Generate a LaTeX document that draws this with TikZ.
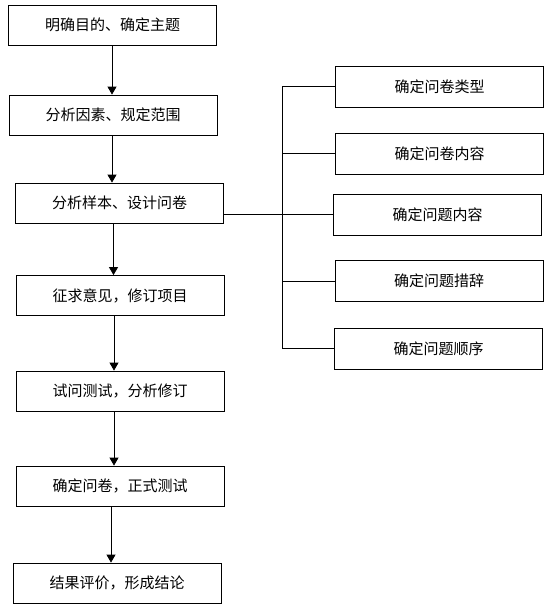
\documentclass[tikz,border=0pt]{standalone}
\usepackage{fontspec}
\newfontfamily\cjk{Noto Sans CJK SC}
\usetikzlibrary{arrows.meta,positioning}
\tikzset{
  stage/.style={
    shape = rectangle,
    draw,
    line width = 0.8pt,
    minimum width = 208pt,
    minimum height = 40pt,
    inner sep = 0pt,
    font = \cjk\fontsize{15}{18}\selectfont
  },
  item/.style={
    stage,
    minimum height = 41pt
  },
  flow/.style={
    -{Triangle[width=9pt,length=8pt]},
    line width = 0.8pt
  },
  link/.style={
    line width = 0.7pt
  }
}

\begin{document}
\begin{tikzpicture}[x=1pt,y=-1pt]
        \useasboundingbox (0,0) rectangle (557,616);
        \def\dx{-6pt};

        \node[stage] (goal)    at (112.5,25)  {明确目的、确定主题};
        \node[stage] (factor)  at (113,115)   {分析因素、规定范围};
        \node[stage] (sample)  at (119.5,203) {分析样本、设计问卷};
        \node[stage] (opinion) at (120,295.5) {征求意见，修订项目};
        \node[stage] (trial)   at (120,391)   {试问测试，分析修订};
        \node[stage] (final)   at (120,486)   {确定问卷，正式测试};
        \node[stage] (result)  at (117,583)   {结果评价，形成结论};

        \node[item] (type)    at (439.5,86.5)  {确定问卷类型};
        \node[item] (content) at (439.5,153.5) {确定问卷内容};
        \node[item] (qcont)   at (437.5,214.5) {确定问题内容};
        \node[item] (wording) at (439,281)     {确定问题措辞};
        \node[item] (order)   at (438.5,348.5) {确定问题顺序};

        \draw[flow] ([xshift=-0.5pt]goal.south) -- ([xshift=-0.5pt]goal.south |- factor.north);
        \draw[flow] ([xshift=-1pt]factor.south) -- ([xshift=-1pt]factor.south |- sample.north);
        \draw[flow] ([xshift=\dx]sample.south) -- ([xshift=\dx]sample.south |- opinion.north);
        \draw[flow] ([xshift=\dx]opinion.south) -- ([xshift=\dx]opinion.south |- trial.north);
        \draw[flow] ([xshift=\dx]trial.south) -- ([xshift=\dx]trial.south |- final.north);
        \draw[flow] ([xshift=-9pt]final.south) -- ([xshift=-9pt]final.south |- result.north);

        \coordinate (bus) at (282,0);
        \draw[link] (type.west) -| (bus |- order.west) -- (order.west);
        \draw[link] (sample.east |- qcont.west) -- (qcont.west);
        \foreach \b in {content,wording}
            \draw[link] (bus |- \b.west) -- (\b.west);
\end{tikzpicture}
\end{document}
